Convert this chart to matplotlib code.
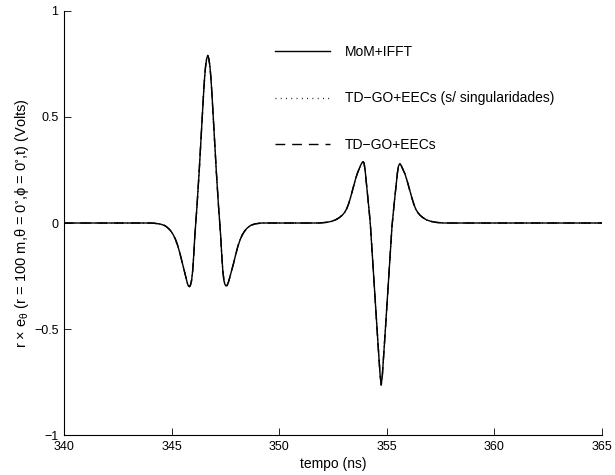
import matplotlib
matplotlib.use("Agg")
import matplotlib.pyplot as plt

plt.rcParams['font.family'] = ['Liberation Sans', 'DejaVu Sans']
plt.rcParams['mathtext.fontset'] = 'custom'
plt.rcParams['mathtext.rm'] = 'Liberation Sans'
plt.rcParams['mathtext.it'] = 'Liberation Sans'
plt.rcParams['mathtext.default'] = 'regular'

# tempo (ns) and field values
tempo = [340.00, 344.00, 344.18, 344.48, 344.68, 344.78, 344.88, 344.98, 345.08,
         345.18, 345.28, 345.38, 345.48, 345.58, 345.68, 345.73, 345.78, 345.83,
         345.88, 345.93, 345.98, 346.03, 346.08, 346.13, 346.18, 346.23, 346.28,
         346.33, 346.38, 346.43, 346.48, 346.53, 346.58, 346.63, 346.68,
         346.73, 346.78, 346.83, 346.88, 346.93, 346.98, 347.03, 347.08, 347.13,
         347.18, 347.23, 347.28, 347.33, 347.38, 347.43, 347.48, 347.53, 347.58,
         347.63, 347.68, 347.78, 347.88, 347.98, 348.08, 348.18, 348.28, 348.38,
         348.48, 348.58, 348.68, 348.88, 349.18,
         351.84, 352.19, 352.44, 352.64, 352.80, 352.94, 353.04, 353.14, 353.24,
         353.34, 353.44, 353.54, 353.64, 353.74, 353.79, 353.84, 353.90, 353.94,
         353.99, 354.04, 354.09, 354.14, 354.19, 354.24, 354.29, 354.34, 354.39,
         354.44, 354.49, 354.54, 354.59, 354.64, 354.69, 354.74,
         354.79, 354.84, 354.89, 354.94, 354.99, 355.04, 355.09, 355.14, 355.19,
         355.24, 355.29, 355.34, 355.39, 355.44, 355.49, 355.54, 355.60, 355.64,
         355.69, 355.74, 355.84, 355.94, 356.04, 356.14, 356.24, 356.34, 356.44,
         356.54, 356.68, 356.84, 357.04, 357.29, 357.64, 365.00]
campo = [0.000, 0.000, -0.001, -0.005, -0.012, -0.019, -0.028, -0.040, -0.056,
         -0.077, -0.105, -0.140, -0.180, -0.222, -0.262, -0.283, -0.296, -0.300,
         -0.292, -0.270, -0.225, -0.150, -0.060, 0.010, 0.080, 0.160, 0.240,
         0.330, 0.420, 0.510, 0.600, 0.680, 0.740, 0.775, 0.790,
         0.775, 0.740, 0.680, 0.600, 0.510, 0.420, 0.330, 0.240, 0.160,
         0.080, 0.010, -0.060, -0.150, -0.225, -0.270, -0.290, -0.297, -0.294,
         -0.282, -0.265, -0.228, -0.190, -0.148, -0.110, -0.080, -0.057, -0.040,
         -0.027, -0.018, -0.011, -0.004, 0.000,
         0.000, 0.003, 0.008, 0.016, 0.026, 0.038, 0.050, 0.068, 0.095,
         0.130, 0.168, 0.205, 0.237, 0.262, 0.274, 0.283, 0.289, 0.283,
         0.250, 0.200, 0.148, 0.095, 0.045, -0.015, -0.095, -0.175, -0.255,
         -0.335, -0.410, -0.490, -0.570, -0.645, -0.720, -0.764,
         -0.720, -0.645, -0.570, -0.490, -0.410, -0.335, -0.255, -0.175, -0.095,
         -0.015, 0.040, 0.090, 0.140, 0.190, 0.235, 0.268, 0.280, 0.276,
         0.266, 0.254, 0.232, 0.200, 0.163, 0.127, 0.093, 0.066, 0.049,
         0.037, 0.025, 0.015, 0.008, 0.003, 0.000, 0.000]

legendas = ['MoM+IFFT', 'TD\u2212GO+EECs (s/ singularidades)', 'TD\u2212GO+EECs']
estilos = ['-', (0, (0.6, 3.2)), (0, (7, 5))]

xticks = [340, 345, 350, 355, 360, 365]
yticks = [-1, -0.5, 0, 0.5, 1]
ytick_labels = ['\u22121', '\u22120.5', '0', '0.5', '1']

fig = plt.figure(figsize=(6.15, 4.75), dpi=100)
ax = fig.add_axes([0.104, 0.084, 0.875, 0.893])

for nome, ls in zip(legendas, estilos):
    ax.plot(tempo, campo, color='black', linestyle=ls, linewidth=1.0, label=nome)

ax.set_xlim(340, 365)
ax.set_ylim(-1, 1)
ax.set_xticks(xticks)
ax.set_xticklabels([str(v) for v in xticks])
ax.set_yticks(yticks)
ax.set_yticklabels(ytick_labels)
ax.tick_params(direction='in', length=5, labelsize=9, width=0.6)
ax.tick_params(axis='x', pad=4)
ax.tick_params(axis='y', pad=4)
ax.spines['top'].set_visible(False)
ax.spines['right'].set_visible(False)
ax.spines['left'].set_linewidth(0.8)
ax.spines['bottom'].set_linewidth(0.8)

ax.set_xlabel('tempo (ns)', fontsize=10, labelpad=3)
ax.set_ylabel(r'r $\times$ e$_{\theta}$ (r = 100 m,$\theta$ = 0$^{\circ}$,$\phi$ = 0$^{\circ}$,t) (Volts)',
              fontsize=10.5, labelpad=2)

ax.legend(loc='upper left', bbox_to_anchor=(0.392, 0.92), frameon=False,
          fontsize=10, handlelength=4.0, handletextpad=1.05, labelspacing=2.35,
          borderpad=0, borderaxespad=0)

fig.savefig('out.png', dpi=100)
